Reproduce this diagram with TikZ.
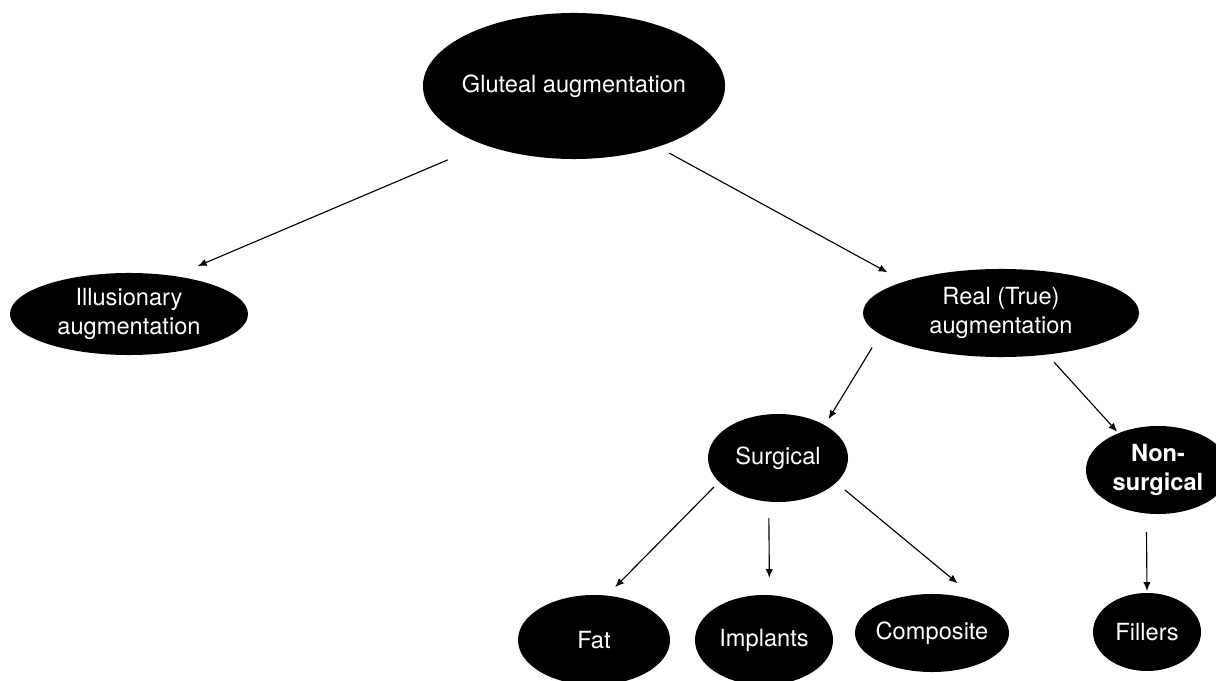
\documentclass[tikz,border=0pt]{standalone}
\usepackage{fontspec}
\setmainfont{TeX Gyre Heros}
\usetikzlibrary{arrows.meta}
\usetikzlibrary{shapes.geometric}

\begin{document}
\begin{tikzpicture}[
		x=0.025cm, y=-0.025cm,
		line width=0.8pt,
		blob/.style={ellipse, fill=black, text=white, inner xsep=-6pt, inner ysep=0pt,
			outer sep=0pt, align=center, font=\fontsize{16.8}{20.5}\selectfont},
		arrow/.style={-{Latex[length=2.2mm, width=1.8mm]}},
	]
	\useasboundingbox (0,0) rectangle (1216,681);

	\node (glut) [blob, minimum width=7.55cm, minimum height=3.65cm] at (574,86) {Gluteal augmentation};
	\node (illus) [blob, minimum width=5.95cm, minimum height=2.05cm] at (129,314) {Illusionary\\augmentation};
	\node (real) [blob, minimum width=6.9cm, minimum height=2.2cm] at (1001,313) {Real (True)\\augmentation};
	\node (surg) [blob, minimum width=3.5cm, minimum height=2.2cm] at (778,458) {Surgical};
	\node (nons) [blob, minimum width=3.6cm, minimum height=2.2cm, font=\fontsize{16.8}{20.5}\selectfont\bfseries] at (1158,470) {Non-\\surgical};
	\node (fat) [blob, minimum width=3.8cm, minimum height=2.25cm] at (594,640) {Fat};
	\node (impl) [blob, minimum width=3.45cm, minimum height=2.25cm] at (764,640) {Implants};
	\node (comp) [blob, minimum width=3.85cm, minimum height=1.95cm] at (932,633) {Composite};
	\node (fill) [blob, minimum width=2.7cm, minimum height=1.95cm] at (1147,632) {Fillers};

	\draw[arrow, shorten <=0.98cm, shorten >=0.64cm] (glut.213.2) -- (illus.40);
	\draw[arrow, shorten <=0.33cm, shorten >=0.48cm] (glut.324.4) -- (real.162.8);
	\draw[arrow, shorten <=0.39cm, shorten >=0.18cm] (real.190.4) -- (surg.35.5);
	\draw[arrow, shorten <=0.26cm, shorten >=0.05cm] (real.318.7) -- (nons.137.3);
	\draw[arrow, shorten <=0.18cm, shorten >=0.3cm] (surg.202) -- (fat.74.4);
	\draw[arrow, shorten <=0.41cm, shorten >=0.43cm] (surg.258.3) -- (impl.83.6);
	\draw[arrow, shorten <=0.29cm, shorten >=0.78cm] (surg.337.1) -- (comp.31.7);
	\draw[arrow, shorten <=0.46cm, shorten >=0.05cm] (nons.255.8) -- (fill.north);
\end{tikzpicture}
\end{document}
